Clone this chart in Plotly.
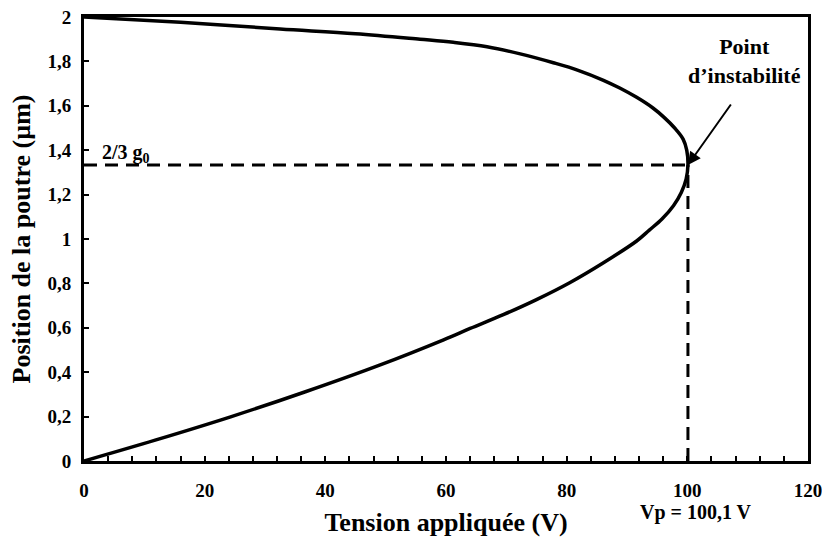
import plotly.graph_objects as go

# Static deflection of the beam: applied voltage (V) vs. beam position (µm)
tension_bas = [0, 11.8, 24.3, 36.7, 49.1, 59.6, 64.0, 69.5, 75.0, 80.5, 86.1,
               91.6, 93.7, 95.8, 97.7, 99.0, 99.8]
position_bas = [0, 0.094, 0.199, 0.312, 0.433, 0.546, 0.597, 0.659, 0.727, 0.803,
                0.893, 0.991, 1.04, 1.09, 1.15, 1.21, 1.27]
tension_haut = [99.9, 99.3, 97.9, 96.1, 94.3, 91.6, 88.8, 86.1, 81.9, 77.8, 72.3,
                66.8, 61.2, 55.7, 45.0, 32.5, 16.0, 0]
position_haut = [1.40, 1.45, 1.50, 1.549, 1.590, 1.638, 1.680, 1.715, 1.760, 1.794,
                 1.834, 1.866, 1.886, 1.900, 1.925, 1.946, 1.976, 2.0]

g0 = 2.0          # initial gap (µm)
Vp = 100.1        # pull-in voltage (V)
y_inst = 2 * g0 / 3

x_ticks = [0, 20, 40, 60, 80, 100, 120]
y_ticks = [0, 0.2, 0.4, 0.6, 0.8, 1, 1.2, 1.4, 1.6, 1.8, 2]

FONT = "Liberation Serif"

tension = tension_bas + [Vp] + tension_haut
position = position_bas + [y_inst] + position_haut

fig = go.Figure()

# guide lines through the instability point
guide = dict(color="black", width=3, dash="13px,8px")
fig.add_trace(go.Scatter(x=[0, Vp], y=[y_inst, y_inst], mode="lines", line=guide,
                         hoverinfo="skip", showlegend=False))
fig.add_trace(go.Scatter(x=[Vp, Vp], y=[0, y_inst], mode="lines", line=guide,
                         hoverinfo="skip", showlegend=False))

fig.add_trace(go.Scatter(x=tension, y=position, mode="lines",
                         line=dict(color="black", width=3.5, shape="spline", smoothing=1.0),
                         showlegend=False))

axis_common = dict(showline=True, linecolor="black", linewidth=3, mirror=True,
                   showgrid=False, zeroline=False, ticks="inside", tickcolor="black",
                   tickwidth=2, ticklen=5, automargin=False, ticklabeloverflow="allow",
                   tickfont=dict(family=FONT, size=19, color="black", weight="bold"))

fig.update_xaxes(range=[0, 120], tickvals=x_ticks, ticktext=[str(v) for v in x_ticks],
                 minor=dict(dtick=4, ticks="inside", ticklen=5, tickwidth=2, tickcolor="black"),
                 ticklabelstandoff=10,
                 title=dict(text="Tension appliquée (V)", standoff=22,
                            font=dict(family=FONT, size=26, color="black", weight="bold")),
                 **axis_common)
fig.update_yaxes(range=[0, 2], tickvals=y_ticks,
                 ticktext=[("%g" % v).replace(".", ",") for v in y_ticks],
                 ticklabelstandoff=6,
                 title=dict(text="Position de la poutre (µm)", standoff=10,
                            font=dict(family=FONT, size=26, color="black", weight="bold")),
                 **axis_common)

fig.add_annotation(x=Vp, y=y_inst, ax=44, ay=-62, showarrow=True, text="",
                   arrowhead=2, arrowsize=1.3, arrowwidth=2, arrowcolor="black")
fig.add_annotation(x=109.5, y=1.80, text="Point<br>d’instabilité", showarrow=False,
                   font=dict(family=FONT, size=22, color="black", weight="bold"),
                   xanchor="center", yanchor="middle")
fig.add_annotation(x=2.7, y=y_inst, yshift=12, text="2/3 g<sub>0</sub>", showarrow=False,
                   font=dict(family=FONT, size=20, color="black", weight="bold"),
                   xanchor="left", yanchor="middle")
fig.add_annotation(x=Vp, xshift=8, y=-0.115, yref="paper",
                   text="Vp = " + f"{Vp:.1f}".replace(".", ",") + " V", showarrow=False,
                   font=dict(family=FONT, size=20, color="black", weight="bold"),
                   xanchor="center", yanchor="middle")

fig.update_layout(width=822, height=537, margin=dict(l=84, r=14, t=17, b=76),
                  paper_bgcolor="white", plot_bgcolor="white",
                  font=dict(family=FONT, color="black"))

fig.write_html("out.html")
